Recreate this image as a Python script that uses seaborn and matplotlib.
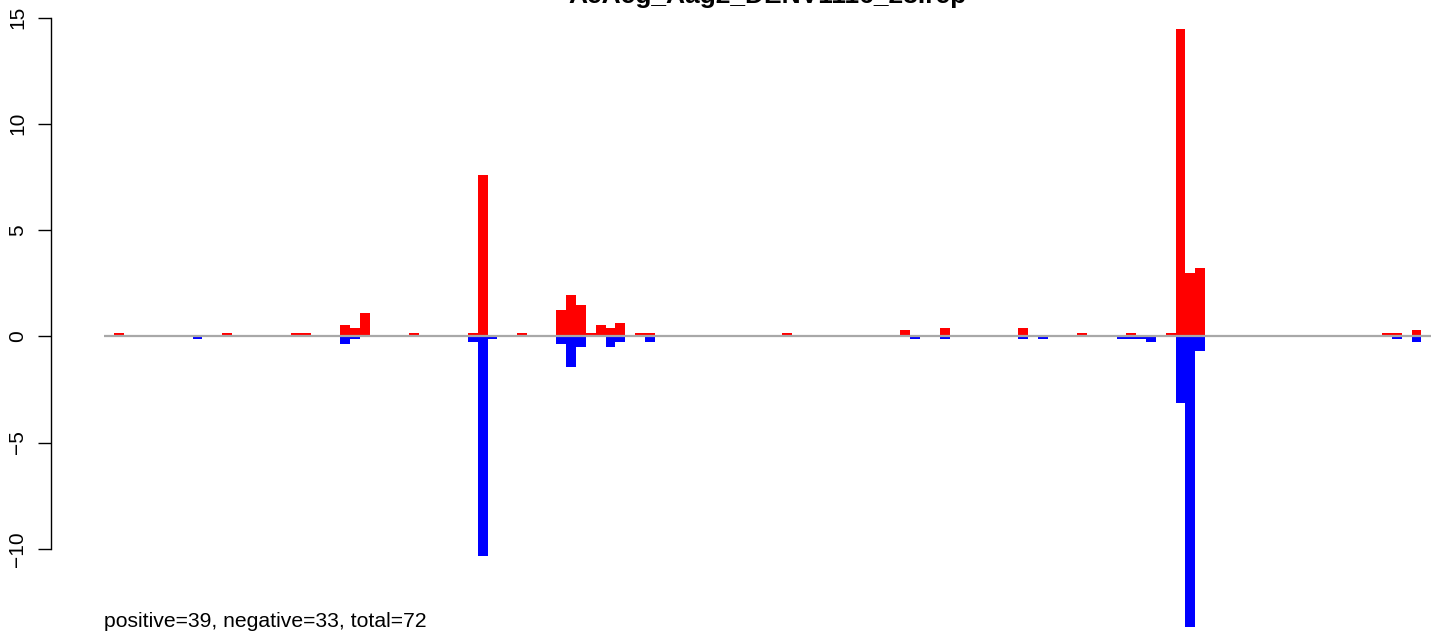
import numpy as np
import pandas as pd
import matplotlib
matplotlib.use("Agg")
import matplotlib.pyplot as plt
import seaborn as sns

# ---------------- data ----------------
title = "AeAeg_Aag2_DENV1116_28.rep"
footer = "positive=39, negative=33, total=72"
n_bins = 133

pos_bins = [0, 11, 18, 19, 23, 24, 25, 30, 36, 37, 41, 45, 46, 47, 48, 49, 50,
            51, 53, 54, 68, 80, 84, 92, 98, 103, 107, 108, 109, 110, 129, 130, 132]
pos_vals = [0.15, 0.15, 0.15, 0.15, 0.52, 0.38, 1.08, 0.15, 0.15, 7.58, 0.15,
            1.22, 1.93, 1.46, 0.15, 0.52, 0.38, 0.61, 0.15, 0.15, 0.15, 0.28,
            0.38, 0.38, 0.15, 0.15, 0.15, 14.45, 2.98, 3.23, 0.15, 0.15, 0.28]

neg_bins = [8, 23, 24, 36, 37, 38, 45, 46, 47, 50, 51, 54, 81, 84, 92, 94, 102,
            103, 104, 105, 108, 109, 110, 130, 132]
neg_vals = [-0.15, -0.38, -0.15, -0.28, -10.35, -0.15, -0.38, -1.46, -0.52,
            -0.52, -0.28, -0.28, -0.15, -0.15, -0.15, -0.15, -0.15, -0.15,
            -0.15, -0.28, -3.15, -13.7, -0.71, -0.15, -0.28]

y_ticks = [-10, -5, 0, 5, 10, 15]

# ---------------- build dense tables ----------------
pos_full = np.zeros(n_bins)
pos_full[pos_bins] = pos_vals
neg_full = np.zeros(n_bins)
neg_full[neg_bins] = neg_vals
centers = np.arange(n_bins) + 0.5
df = pd.DataFrame({"x": centers, "pos": pos_full, "neg": neg_full})

# ---------------- figure ----------------
sns.set_theme(style="white")
plt.rcParams["font.family"] = ["Liberation Sans", "DejaVu Sans"]

W, H, DPI = 1441, 632, 100
fig = plt.figure(figsize=(W / DPI, H / DPI), dpi=DPI)
left_px = 51
ax = fig.add_axes([left_px / W, 0, (W - left_px) / W, 1])
ax.set_facecolor("white")

sns.barplot(data=df, x="x", y="pos", native_scale=True, width=1, color="#FF0000",
            saturation=1, errorbar=None, linewidth=0, ax=ax, antialiased=False)
sns.barplot(data=df, x="x", y="neg", native_scale=True, width=1, color="#0000FF",
            saturation=1, errorbar=None, linewidth=0, ax=ax, antialiased=False)

# zero reference line spanning one bin beyond the data on each side
ax.hlines(0, -1, n_bins + 1, color="#A8A8A8", linewidth=1.6, zorder=5)

px_per_unit = 9.83
first_bar_px = 114
xmin = -(first_bar_px - left_px) / px_per_unit
xmax = xmin + (W - left_px) / px_per_unit
ax.set_xlim(xmin, xmax)

zero_px = 336.3
y_px_per_unit = 21.25
ax.set_ylim(-(H - zero_px) / y_px_per_unit, zero_px / y_px_per_unit)

for s in ["top", "right", "bottom"]:
    ax.spines[s].set_visible(False)
ax.spines["left"].set_visible(True)
ax.spines["left"].set_color("black")
ax.spines["left"].set_linewidth(1.0)
ax.spines["left"].set_bounds(y_ticks[0], y_ticks[-1])

ax.set_xticks([])
ax.set_yticks(y_ticks)
ax.set_yticklabels([str(t) if t >= 0 else "\u2212" + str(-t) for t in y_ticks],
                   rotation=90, va="center", fontsize=15)
ax.tick_params(axis="y", which="major", left=True, length=9.4, width=1.0,
               color="black", pad=7.9, labelcolor="black")
ax.set_xlabel("")
ax.set_ylabel("")
ax.grid(False)

fig.text(767 / W, 1 - 3 / H, title, ha="center", va="baseline",
         fontsize=19, fontweight="bold", color="black")
fig.text(104 / W, 1 - 627 / H, footer, ha="left", va="baseline",
         fontsize=15.2, color="black")

fig.savefig("out.png", dpi=DPI, facecolor="white")
